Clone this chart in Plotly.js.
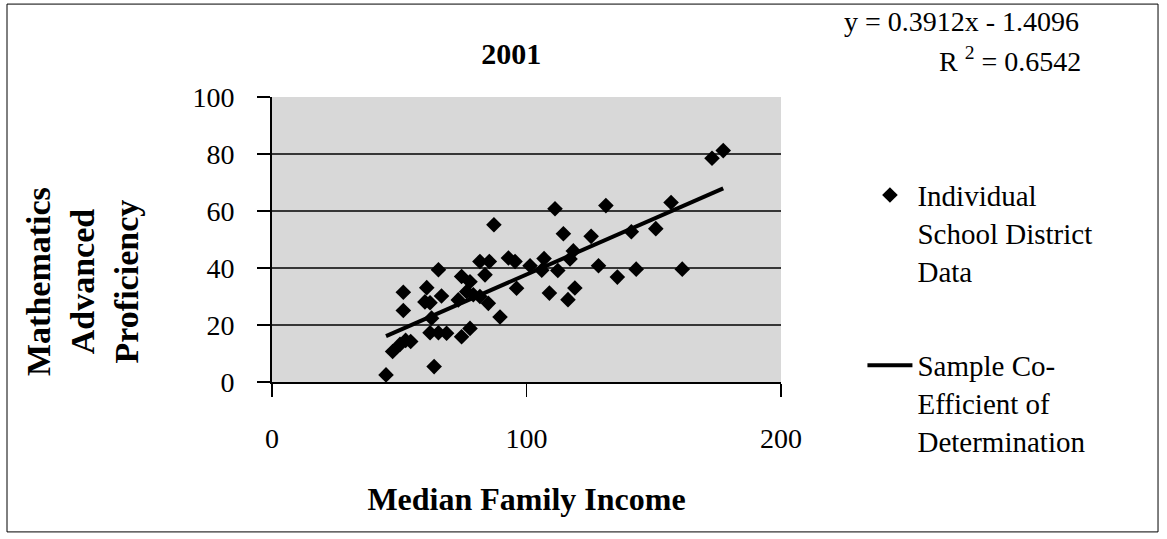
<!DOCTYPE html>
<html>
<head>
<meta charset="utf-8">
<script src="https://cdn.plot.ly/plotly-3.0.1.min.js"></script>
<style>
html,body{margin:0;padding:0;background:#fff;}
#chart{width:1167px;height:539px;}
</style>
</head>
<body>
<div id="chart"></div>
<script>
// Median family income (thousands) per school district
const income = [44.8,47.4,50.3,52.5,54.5,51.6,51.6,65.4,60.8,60.1,62.1,66.6,63.7,62.1,65.4,68.6,62.7,
  74.5,77.8,73.2,76.5,74.5,77.8,81.7,85.4,83.7,79.1,81.7,85.0,89.6,92.9,95.5,101.4,96.1,87.2,
  106.0,106.9,112.3,109.0,111.2,114.5,117.1,118.4,116.3,119.0,125.4,128.3,131.2,135.7,141.2,
  143.1,150.8,156.8,161.2,172.9,177.3];
// Mathematics advanced proficiency (%)
const proficiency = [2.5,10.7,13.2,14.6,14.2,31.5,25.1,39.4,33.1,28.1,27.8,30.2,5.4,17.3,17.3,17.1,22.4,
  37.0,35.2,28.8,31.7,15.9,18.8,42.3,42.3,37.6,30.6,30.0,27.6,22.8,43.5,42.3,40.8,32.9,55.2,
  39.2,43.3,39.1,31.2,60.8,52.0,43.2,46.0,28.9,33.0,51.1,40.8,61.9,36.8,52.7,
  39.6,53.8,63.0,39.6,78.5,81.2];
// Trendline from the reported equation
const slope = 0.3912, intercept = -1.4096, r2 = 0.6542;
const chartTitle = "2001";
const xTitle = "Median Family Income";
const yTitleLines = ["Mathematics", "Advanced", "Proficiency"];
const seriesNames = ["Individual<br>School District<br>Data", "Sample Co-<br>Efficient of<br>Determination"];
const xTicks = [0, 100, 200];
const yTicks = [0, 20, 40, 60, 80, 100];
const gridVals = [20, 40, 60, 80];

const xMin = Math.min(...income), xMax = Math.max(...income);
const trendX = [xMin, xMax];
const trendY = trendX.map(v => slope * v + intercept);

const F = "Liberation Serif, Times New Roman, serif";

const traces = [
  {x: income, y: proficiency, type: "scatter", mode: "markers", name: seriesNames[0],
   legendgroup: "a",
   marker: {symbol: "diamond", size: 12, color: "#000"}},
  {x: trendX, y: trendY, type: "scatter", mode: "lines", name: seriesNames[1],
   legendgroup: "b",
   line: {color: "#000", width: 4}}
];

const shapes = gridVals.map(v => ({type: "line", xref: "paper", x0: 0, x1: 1, yref: "y", y0: v, y1: v,
  line: {color: "#000", width: 1.3}, layer: "below"}));
shapes.push({type: "rect", xref: "paper", yref: "paper", x0: -0.5206, x1: 1.7407, y0: -0.526, y1: 1.326,
  line: {color: "#000", width: 1}});

const layout = {
  width: 1167, height: 539,
  margin: {l: 272, r: 386, t: 97, b: 157},
  paper_bgcolor: "#fff",
  plot_bgcolor: "#d8d8d8",
  font: {family: F, size: 28, color: "#000"},
  title: {text: "<b>" + chartTitle + "</b>", font: {family: F, size: 30, color: "#000"},
    x: 0.438, xref: "container", y: 0.9, yref: "container", xanchor: "center", yanchor: "middle"},
  xaxis: {range: [0, 200], tickvals: xTicks, ticktext: xTicks.map(String), showgrid: false, zeroline: false,
    showline: true, linecolor: "#000", linewidth: 2, ticks: "outside", ticklen: 13, tickcolor: "#000", tickwidth: 1.5,
    ticklabelstandoff: 17, tickfont: {family: F, size: 28, color: "#000"},
    title: {text: "<b>" + xTitle + "</b>", font: {family: F, size: 32, color: "#000"}, standoff: 35}},
  yaxis: {range: [0, 100], tickvals: yTicks, ticktext: yTicks.map(String), showgrid: false, zeroline: false,
    showline: true, linecolor: "#000", linewidth: 2, ticks: "outside", ticklen: 13, tickcolor: "#000", tickwidth: 1.5,
    ticklabelstandoff: 17, tickfont: {family: F, size: 28, color: "#000"}},
  showlegend: true,
  legend: {x: 1.16, xanchor: "left", y: 0.745, yanchor: "top", bgcolor: "rgba(0,0,0,0)",
    font: {family: F, size: 29, color: "#000"}, traceorder: "grouped", tracegroupgap: 54, valign: "top",
    itemwidth: 45},
  shapes: shapes,
  annotations: [
    {xref: "paper", yref: "paper", x: (82 - 272) / 509, y: (382 - 282) / 285, xanchor: "center", yanchor: "middle",
     textangle: -90, text: "<b>" + yTitleLines.join("<br>") + "</b>", showarrow: false,
     font: {family: F, size: 34, color: "#000"}},
    {xref: "paper", yref: "paper", x: (961 - 272) / 509, y: (382 - 21) / 285, xanchor: "center", yanchor: "middle",
     text: "y = " + slope + "x - " + Math.abs(intercept), showarrow: false, font: {family: F, size: 28, color: "#000"}},
    {xref: "paper", yref: "paper", x: (1010 - 272) / 509, y: (382 - 59) / 285, xanchor: "center", yanchor: "middle",
     text: "R <sup>2</sup> = " + r2, showarrow: false, font: {family: F, size: 28, color: "#000"}}
  ]
};

Plotly.newPlot("chart", traces, layout, {displayModeBar: false, staticPlot: true});
</script>
</body>
</html>
